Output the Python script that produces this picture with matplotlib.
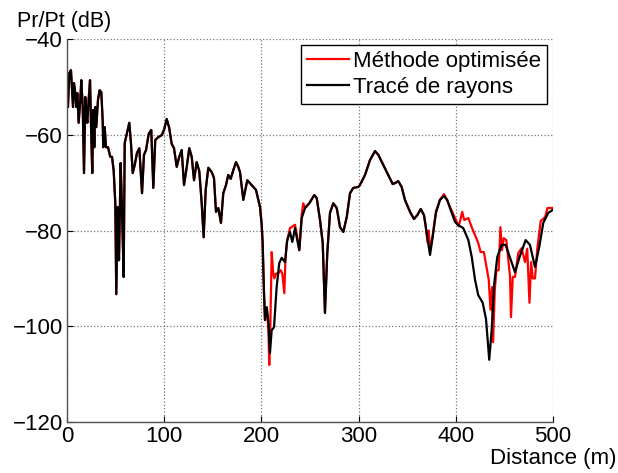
import matplotlib.pyplot as plt
import numpy as np

# Tracé de rayons (reference, black)
dist_ray = [0, 1.0, 2.4, 4.1, 5.1, 6.2, 7.2, 8.5, 9.6, 10.6, 12.0, 13.7, 14.7, 16.2, 17.5, 18.8,
            19.9, 20.9, 22.3, 23.7, 25.0, 26.0, 27.1, 28.1, 29.1, 30.1, 31.9, 33.6, 35.3, 36.7,
            37.3, 38.8, 40.1, 42.2, 44.5, 46.3, 48.0, 49.7, 50.7, 52.2, 53.5, 55.2, 56.6, 58.3,
            59.4, 61.7, 64.1, 65.8, 67.6, 69.7, 72.0, 74.4, 77.2, 79.2, 81.3, 84.1, 86.7, 88.8,
            90.8, 93.9, 97.4, 99.8, 102.6, 105.2, 107.7, 110.1, 112.9, 115.5, 118.0, 120.4,
            123.1, 125.8, 128.3, 130.7, 133.4, 136.1, 138.6, 140.6, 142.7, 145.4, 148.9, 151.2,
            153.3, 155.7, 158.4, 160.8, 163.6, 165.9, 168.4, 171.1, 173.9, 176.2, 178.0, 181.4,
            185.5, 190.0, 194.4, 198.6, 200.3, 201.3, 202.7, 203.7, 205.5, 207.1, 208.8, 210.6,
            213.0, 215.7, 218.4, 220.9, 224.3, 226.6, 229.4, 231.8, 234.6, 236.9, 239.0, 241.5,
            244.9, 249.3, 254.4, 256.9, 260.3, 263.1, 265.4, 267.8, 270.6, 274.0, 277.5, 280.9,
            284.3, 287.8, 291.2, 294.5, 299.7, 301.4, 306.6, 311.7, 316.9, 320.3, 325.4, 330.6,
            335.1, 337.4, 340.8, 344.3, 347.7, 352.9, 357.0, 360.4, 363.9, 367.3, 370.7, 373.5,
            376.2, 379.6, 383.7, 387.9, 391.2, 394.0, 399.2, 402.6, 407.7, 412.9, 416.4, 419.8,
            423.1, 427.7, 431.1, 432.8, 434.4, 436.9, 439.6, 442.7, 447.2, 451.3, 455.8, 460.9,
            466.0, 471.9, 476.3, 481.5, 485.9, 490.0, 495.2, 499.7]
pr_ray = [-48.6, -54.2, -47.1, -46.5, -50.0, -54.2, -49.2, -51.3, -54.2, -51.3, -57.5, -52.7,
          -48.6, -54.2, -68.0, -52.1, -55.5, -57.5, -52.7, -48.6, -60.5, -68.0, -54.8, -62.6,
          -54.2, -58.4, -52.7, -50.7, -51.1, -56.9, -62.6, -58.4, -62.6, -62.6, -64.6, -64.6,
          -67.4, -74.3, -93.3, -75.1, -86.2, -65.9, -75.7, -89.7, -61.7, -59.6, -57.5, -61.7,
          -68.0, -66.3, -63.8, -62.8, -72.2, -64.2, -63.2, -59.8, -59.0, -71.1, -61.1, -60.5,
          -60.1, -59.0, -56.7, -58.6, -61.9, -62.8, -66.7, -64.6, -63.2, -70.5, -66.9, -62.8,
          -64.6, -69.5, -65.7, -67.6, -74.3, -81.4, -71.5, -66.9, -67.8, -69.0, -76.1, -75.3,
          -78.4, -72.2, -70.5, -68.4, -69.2, -67.4, -65.7, -66.7, -67.8, -73.6, -69.5, -70.5,
          -71.5, -75.1, -78.8, -82.6, -93.1, -98.7, -96.0, -98.7, -105.6, -100.8, -100.2,
          -91.8, -86.8, -85.7, -86.6, -82.0, -80.3, -82.4, -79.5, -82.0, -84.1, -77.4, -75.3,
          -74.3, -72.6, -73.2, -77.8, -82.6, -97.2, -84.7, -76.3, -74.3, -75.3, -79.3, -80.3,
          -77.2, -72.2, -71.1, -70.9, -70.5, -68.4, -65.3, -63.4, -64.2, -66.3, -68.4, -70.3,
          -70.1, -69.7, -70.9, -73.6, -76.1, -77.6, -76.8, -75.5, -76.8, -81.4, -85.1, -81.4,
          -76.3, -73.6, -72.8, -73.6, -75.3, -78.2, -78.9, -79.5, -82.0, -85.5, -90.3, -93.5,
          -95.1, -98.5, -102.9, -107.0, -100.8, -91.0, -85.5, -83.0, -83.0, -85.7, -88.7,
          -85.3, -82.0, -83.0, -87.6, -83.4, -78.4, -76.3, -75.7]

# Méthode optimisée (red): where it departs from the ray tracing
dist_opt_a = [205.5, 207.1, 208.1, 209.2, 210.6, 212.2, 213.3, 215.0, 217.4, 219.9, 221.5,
              223.6, 224.6, 226.0, 229.4, 234.6, 236.9, 239.0, 241.5, 243.1]
pr_opt_a = [-97.0, -100.0, -108.1, -100.0, -84.5, -88.9, -90.0, -89.0, -88.9, -88.3, -89.0,
            -93.1, -86.8, -82.6, -79.5, -78.8, -81.4, -84.1, -76.6, -74.3]
dist_opt_b = [369.0, 371.0, 372.0, 373.5, 376.2, 379.6, 383.7, 387.9, 391.2, 399.2, 403.0,
              404.7, 406.6, 408.7, 412.9, 416.4, 419.8, 423.1, 425.5, 428.9, 431.6, 433.9,
              435.7, 437.4, 438.4, 440.1, 441.8, 444.1, 445.9, 447.5, 449.3, 452.0, 453.7,
              455.8, 456.8, 458.6, 460.9, 464.3, 467.7, 471.2, 473.5, 475.8, 477.5, 479.2,
              481.5, 483.9, 487.4, 491.9, 494.3, 499.7]
pr_opt_b = [-79.0, -82.5, -80.0, -84.0, -81.0, -76.0, -73.6, -72.4, -73.8, -77.4, -79.1,
            -77.8, -76.1, -77.8, -77.4, -79.3, -81.0, -82.6, -84.5, -84.5, -87.6, -90.3,
            -96.5, -91.8, -103.3, -92.4, -88.3, -88.3, -79.3, -84.1, -81.6, -82.0, -85.5,
            -89.7, -98.1, -89.7, -89.7, -84.7, -83.7, -86.6, -83.8, -95.1, -86.6, -90.0,
            -90.0, -83.7, -78.0, -77.2, -75.3, -75.3]

x_ticks = [0, 100, 200, 300, 400, 500]
y_ticks = [-120, -100, -80, -60, -40]

# red series = ray-tracing points outside the two windows + its own points inside
d_ray = np.array(dist_ray)
v_ray = np.array(pr_ray)
keep = ~(((d_ray >= 205) & (d_ray <= 243.5)) | ((d_ray >= 368) & (d_ray <= 500)))
d_opt = np.concatenate([d_ray[keep], dist_opt_a, dist_opt_b])
v_opt = np.concatenate([v_ray[keep], pr_opt_a, pr_opt_b])
order = np.argsort(d_opt)
d_opt, v_opt = d_opt[order], v_opt[order]

plt.rcParams['font.family'] = ['Liberation Sans', 'DejaVu Sans']

fig = plt.figure(figsize=(6.18, 4.73), dpi=100)
ax = fig.add_axes([0.1084, 0.1078, 0.7864, 0.8097])

ax.plot(d_opt, v_opt, color='#ff0000', linewidth=1.6, label='Méthode optimisée')
ax.plot(d_ray, v_ray, color='black', linewidth=1.6, label='Tracé de rayons')

ax.set_xlim(0, 500)
ax.set_ylim(-120, -40)
ax.set_xticks(x_ticks)
ax.set_yticks(y_ticks)
ax.set_yticklabels(['\u2212120', '\u2212100', '\u221280', '\u221260', '\u221240'])
ax.tick_params(direction='in', length=4, labelsize=16, colors='black', pad=3)
ax.grid(True, linestyle=':', color='#777777', linewidth=0.9)
for s in ['top', 'right']:
    ax.spines[s].set_visible(False)
for s in ['left', 'bottom']:
    ax.spines[s].set_color('#555555')
    ax.spines[s].set_linewidth(1.0)

fig.text(0.028, 0.932, 'Pr/Pt (dB)', fontsize=15.5, ha='left', va='bottom')
fig.text(0.998, 0.008, 'Distance (m)', fontsize=16, ha='right', va='bottom')

leg = ax.legend(loc='upper right', fontsize=16, fancybox=False, framealpha=1,
                edgecolor='black', borderpad=0.3, labelspacing=0.2,
                handlelength=1.9, handletextpad=0.15, borderaxespad=0.25)
leg.get_frame().set_linewidth(1.0)

plt.savefig('out.png', dpi=100)
